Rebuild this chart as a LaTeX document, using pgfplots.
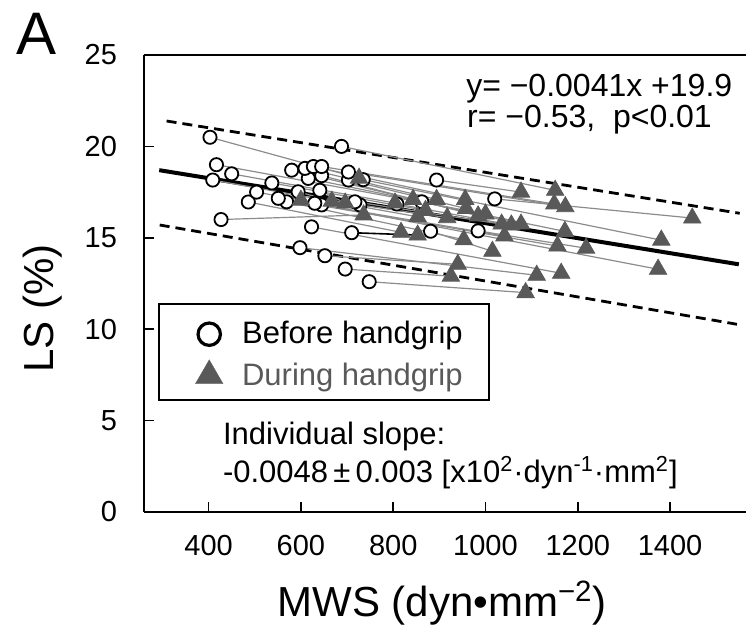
\documentclass[border=0pt]{standalone}
\usepackage{fontspec}
\setmainfont{Liberation Sans}
\usepackage{pgfplots}
\usepackage{pgfplotstable}
\pgfplotsset{compat=1.18}

\definecolor{tri}{HTML}{595959}
\definecolor{link}{HTML}{8C8C8C}

% before (xb,yb) and during (xd,yd) handgrip, one row per subject
\pgfplotstableread{
xb    yb     xd    yd
748   12.6   1087  12.0
696   13.29  925   12.9
652   14.02  940   13.55
598   14.46  1111  12.95
623   15.6   1164  13.06
427   16.0   736   16.25
486   16.96  817   15.3
881   15.36  1015  14.26
569   16.97  953   14.9
984   15.38  1218  14.43
504   17.5   600   17.06
551   17.16  1156  14.55
645   16.8   1041  15.1
630   16.89  1374  13.28
409   18.16  853   16.15
594   17.52  667   17.0
728   16.8   917   16.1
717   16.97  1035  15.75
641   17.6   696   16.9
537   18.0   870   16.5
808   16.85  1056  15.7
450   18.5   804   16.9
862   16.97  1077  15.75
417   19.0   1000  16.3
616   18.25  1172  15.35
645   18.4   984   16.2
580   18.7   843   17.1
703   18.16  958   16.6
735   18.18  1381  14.87
609   18.8   894   17.1
627   18.9   956   17.1
1020  17.13  1448  16.08
703   18.6   1173  16.7
645   18.9   1149  16.85
894   18.16  1077  17.5
403   20.5   726   18.26
688   20.0   1151  17.6
}\pairs

% the one subject whose link is drawn dark
\pgfplotstableread{
xb    yb     xd    yd
710   15.28  853   15.15
}\darkpair

\begin{document}
\begin{tikzpicture}
\begin{axis}[
  at={(0,0)}, anchor=south west,
  scale only axis, width=301pt, height=228.5pt,
  xmin=260, xmax=1564.5, ymin=0, ymax=25,
  axis x line=box, axis y line=left,
  axis line style={-, line width=1pt, black},
  xtick={400,600,...,1400}, ytick={0,5,...,25},
  xtick pos=bottom, ytick pos=left,
  tick align=inside, major tick length=5pt,
  tick style={black, line width=0.8pt},
  /pgf/number format/1000 sep={},
  /pgf/number format/assume math mode=true,
  ticklabel style={font=\fontsize{14.5}{17}\selectfont},
  xticklabel style={yshift=-8pt},
  yticklabel style={xshift=-10pt},
  clip=false,
  xlabel={MWS (dyn•mm\textsuperscript{−2})},
  ylabel={LS (\%)},
  every axis x label/.style={at={(rel axis cs:0.495,-0.199)}, anchor=center,
    font=\fontsize{21}{25}\selectfont},
  every axis y label/.style={at={(rel axis cs:-0.168,0.446)}, anchor=center,
    rotate=90, font=\fontsize{21}{25}\selectfont},
  legend style={at={(0.0249,0.455)}, anchor=north west, draw=none, fill=none,
    xshift=5pt, yshift=-1pt,
    font=\fontsize{15.5}{18}\selectfont,
    inner xsep=13pt, inner ysep=6pt, row sep=4.9pt, column sep=5.5pt,
    nodes={inner xsep=4pt, inner ysep=1.5pt}},
  legend cell align=left,
]

% regression line and its band
\addplot[black, line width=2pt, forget plot] coordinates {(293,18.70) (1549,13.55)};
\addplot[black, line width=1.4pt, dash pattern=on 5pt off 3pt, forget plot]
  coordinates {(309,21.39) (1551,16.34)};
\addplot[black, line width=1.4pt, dash pattern=on 5pt off 3pt, forget plot]
  coordinates {(294,15.70) (1545,10.27)};

% individual before -> during links
\addplot[link, line width=0.6pt, no marks, -, forget plot,
  quiver={u=\thisrow{xd}-\thisrow{xb}, v=\thisrow{yd}-\thisrow{yb}}]
  table[x=xb, y=yb] {\pairs};
\addplot[black, line width=0.8pt, no marks, -, forget plot,
  quiver={u=\thisrow{xd}-\thisrow{xb}, v=\thisrow{yd}-\thisrow{yb}}]
  table[x=xb, y=yb] {\darkpair};

\addplot[only marks, mark=*, mark size=3.3pt,
  mark options={fill=white, draw=black, line width=0.9pt}, forget plot]
  table[x=xb, y=yb] {\pairs};
\addplot[only marks, mark=*, mark size=3.3pt,
  mark options={fill=white, draw=black, line width=0.9pt}, forget plot]
  table[x=xb, y=yb] {\darkpair};
\addplot[only marks, mark=triangle*, mark size=5pt, tri,
  mark options={draw=tri}, forget plot]
  table[x=xd, y=yd] {\pairs};
\addplot[only marks, mark=triangle*, mark size=5pt, tri,
  mark options={draw=tri}, forget plot]
  table[x=xd, y=yd] {\darkpair};

\addlegendimage{only marks, mark=*, mark size=5.6pt,
  mark options={fill=white, draw=black, line width=1.6pt}}
\addlegendentry{Before handgrip}
\addlegendimage{only marks, mark=triangle*, mark size=8pt, tri,
  mark options={draw=tri, line width=0.1pt}}
\addlegendentry[text=tri]{During handgrip}

% legend frame
\draw[black, line width=0.8pt] (rel axis cs:0.0249,0.455) rectangle (rel axis cs:0.573,0.245);

\node[anchor=base west, font=\fontsize{16}{19}\selectfont]
  at (axis cs:943,22.72) {y= −0.0041x +19.9};
\node[anchor=base west, font=\fontsize{16}{19}\selectfont]
  at (axis cs:945,21.04) {r= −0.53,\ \ p<0.01};
\node[anchor=base west, font=\fontsize{15.5}{18}\selectfont]
  at (axis cs:416,3.67) {Individual slope:};
\node[anchor=base west, font=\fontsize{15.5}{18}\selectfont]
  at (axis cs:416,1.64)
  {-0.0048\,±\,0.003 [x10\textsuperscript{2}·dyn\textsuperscript{-1}·mm\textsuperscript{2}]};

\node[font=\fontsize{30}{36}\selectfont] at (rel axis cs:-0.179,1.046) {A};
\end{axis}
\pgfresetboundingbox
\path[use as bounding box] (-72pt,-58.5pt) rectangle (301pt,256pt);
\end{tikzpicture}
\end{document}
